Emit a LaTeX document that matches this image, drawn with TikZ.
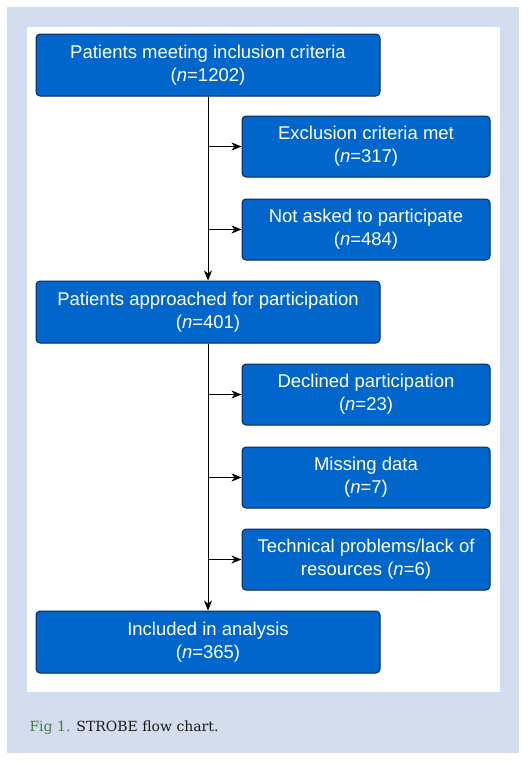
\documentclass[tikz,border=0pt]{standalone}
\usepackage{fontspec}
\setmainfont{DejaVu Serif}
\newfontfamily\boxfont{Liberation Sans}
\usetikzlibrary{arrows.meta}
\definecolor{sbblue}{RGB}{0,102,204}
\definecolor{sbedge}{RGB}{10,40,85}
\definecolor{sbback}{RGB}{212,221,238}
\definecolor{sbgreen}{RGB}{70,125,70}
\newcommand{\MX}{208}
\newcommand{\SX}{366}

\begin{document}
\begin{tikzpicture}[x=1pt, y=-1pt,
    >={Stealth[length=10pt,width=8pt,inset=3pt]},
    flow/.style={draw=black, line width=1pt},
    mainbox/.style={rectangle, rounded corners=4pt, draw=sbedge, line width=1pt,
      fill=sbblue, text=white, align=center, inner sep=0pt,
      font=\boxfont\fontsize{18.5}{23}\selectfont,
      minimum width=344pt, minimum height=62pt},
    sidebox/.style={mainbox, minimum width=248pt, minimum height=61pt},
    caption/.style={anchor=base west, text=black!90, font=\fontsize{14}{16}\selectfont},
  ]

  %% ---------- page and panel ----------
  \useasboundingbox (0,0) rectangle (532,763);
  \fill[white]  (0,0) rectangle (532,763);
  \fill[sbback] (7,7) rectangle (519,753);
  \fill[white]  (27,27) rectangle (500,692);

  %% ---------- main column ----------
  \node[mainbox] (incl) at (\MX,65)  {Patients meeting inclusion criteria\\(\textit{n}=1202)};
  \node[mainbox] (appr) at (\MX,312) {Patients approached for participation\\(\textit{n}=401)};
  \node[mainbox] (anal) at (\MX,642) {Included in analysis\\(\textit{n}=365)};

  %% ---------- side column ----------
  \node[sidebox] (excl) at (\SX,146.5) {Exclusion criteria met\\(\textit{n}=317)};
  \node[sidebox] (nask) at (\SX,229.5) {Not asked to participate\\(\textit{n}=484)};
  \node[sidebox] (decl) at (\SX,394.5) {Declined participation\\(\textit{n}=23)};
  \node[sidebox] (miss) at (\SX,477.5) {Missing data\\(\textit{n}=7)};
  \node[sidebox] (tech) at (\SX,559.5) {Technical problems/lack of\\resources (\textit{n}=6)};

  %% ---------- connectors ----------
  \draw[flow,->] (incl.south) -- (appr.north);
  \draw[flow,->] (appr.south) -- (anal.north);
  \foreach \s in {excl,nask} { \draw[flow,->] (incl.south |- \s.west) -- (\s.west); }
  \foreach \s in {decl,miss,tech} { \draw[flow,->] (appr.south |- \s.west) -- (\s.west); }

  %% ---------- caption ----------
  \node[caption] (cap) at (26,731) {\textcolor{sbgreen}{Fig 1.} STROBE flow chart.};

\end{tikzpicture}
\end{document}
